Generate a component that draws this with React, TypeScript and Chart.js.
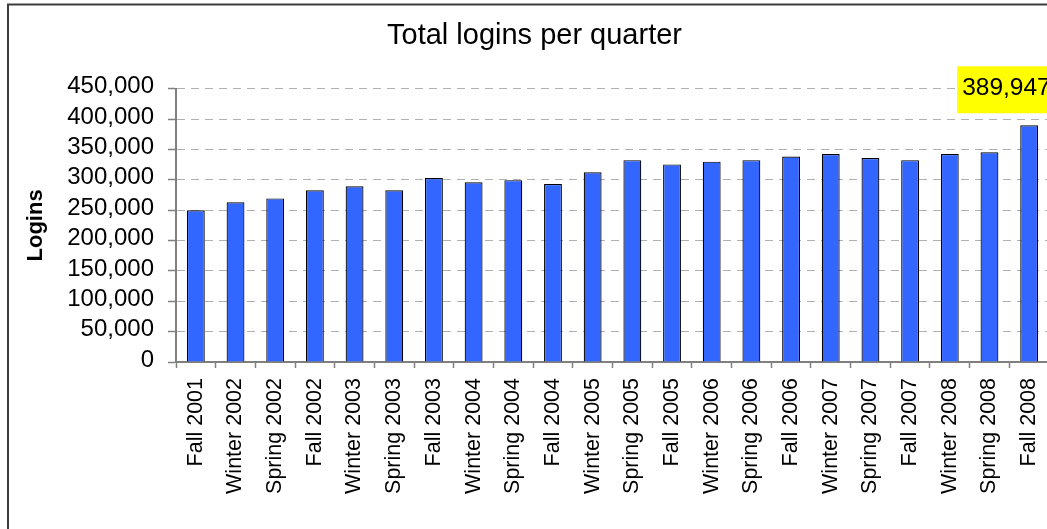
import { useEffect, useRef } from 'react';
import { Chart, registerables } from 'chart.js';

Chart.register(...registerables);

const chartTitle = 'Total logins per quarter';
const axisTitle = 'Logins';

const categories = [
  'Fall 2001', 'Winter 2002', 'Spring 2002', 'Fall 2002', 'Winter 2003', 'Spring 2003',
  'Fall 2003', 'Winter 2004', 'Spring 2004', 'Fall 2004', 'Winter 2005', 'Spring 2005',
  'Fall 2005', 'Winter 2006', 'Spring 2006', 'Fall 2006', 'Winter 2007', 'Spring 2007',
  'Fall 2007', 'Winter 2008', 'Spring 2008', 'Fall 2008',
];

const logins = [
  250000, 263000, 269500, 283000, 289500, 283000,
  303000, 296000, 299500, 293000, 312500, 332500,
  325500, 330000, 332500, 338500, 342500, 336000,
  332500, 342500, 345500, 389947,
];

const yMin = 0;
const yMax = 450000;
const yStep = 50000;

const FONT = '"Liberation Sans", Arial, Helvetica, sans-serif';

const fmt = (v: number) => Number(v).toLocaleString('en-US');

export default function App() {
  const ref = useRef<HTMLCanvasElement | null>(null);

  useEffect(() => {
    if (!ref.current) return;

    const framePlugin = {
      id: 'frame',
      beforeDraw(chart: any) {
        const ctx = chart.ctx;
        ctx.save();
        ctx.fillStyle = '#ffffff';
        ctx.fillRect(0, 0, chart.width, chart.height);
        ctx.strokeStyle = '#3c3c3c';
        ctx.lineWidth = 2;
        ctx.strokeRect(8, 4.5, chart.width + 20, chart.height + 20);
        ctx.restore();
      },
    };

    const calloutPlugin = {
      id: 'callout',
      afterDatasetsDraw(chart: any) {
        const meta = chart.getDatasetMeta(0);
        const i = logins.length - 1;
        const bar = meta.data[i];
        if (!bar) return;
        const ctx = chart.ctx;
        const text = fmt(logins[i]);
        ctx.save();
        ctx.font = `24.5px ${FONT}`;
        const w = ctx.measureText(text).width + 10;
        const left = bar.x - 72;
        const top = bar.y - 59;
        ctx.fillStyle = '#ffff00';
        ctx.fillRect(left, top, w, 47);
        ctx.fillStyle = '#000000';
        ctx.textBaseline = 'alphabetic';
        ctx.textAlign = 'left';
        ctx.fillText(text, left + 5, top + 28.6);
        ctx.restore();
      },
    };

    const chart = new Chart(ref.current, {
      type: 'bar',
      data: {
        labels: categories,
        datasets: [
          {
            label: 'Logins',
            data: logins,
            backgroundColor: '#3366ff',
            borderColor: '#000000',
            borderWidth: 1.2,
            barPercentage: 0.45,
            categoryPercentage: 1,
          },
        ],
      },
      options: {
        responsive: false,
        animation: false,
        layout: { padding: { left: 0, right: 0, top: 0, bottom: 0 } },
        plugins: {
          legend: { display: false },
          tooltip: { enabled: false },
          title: {
            display: true,
            text: chartTitle,
            color: '#000000',
            font: { family: FONT, size: 29, weight: 'normal' },
            padding: { top: 19, bottom: 35 },
          },
        },
        scales: {
          x: {
            type: 'category',
            position: 'bottom',
            offset: true,
            grid: {
              display: true,
              offset: true,
              drawOnChartArea: false,
              drawTicks: true,
              tickLength: 6,
              tickColor: '#808080',
              tickWidth: 1.5,
            },
            border: { display: true, color: '#808080', width: 2 },
            ticks: {
              autoSkip: false,
              maxRotation: 90,
              minRotation: 90,
              padding: 10,
              color: '#000000',
              font: { family: FONT, size: 21.5 },
            },
            afterFit(scale: any) {
              scale.height = 167;
            },
          },
          y: {
            type: 'linear',
            position: 'left',
            min: yMin,
            max: yMax,
            grid: {
              color: '#b0b0b0',
              lineWidth: 1,
              tickLength: 8,
              tickColor: '#808080',
              tickWidth: 1.5,
            },
            border: { display: true, color: '#808080', width: 2, dash: [8, 6] },
            ticks: {
              autoSkip: false,
              stepSize: yStep,
              padding: 14,
              labelOffset: -2,
              color: '#000000',
              font: { family: FONT, size: 24 },
              callback: (v: any) => fmt(v),
            },
            title: {
              display: true,
              text: axisTitle,
              color: '#000000',
              font: { family: FONT, size: 22, weight: 'bold' },
              padding: { top: 23, bottom: 0 },
            },
            afterFit(scale: any) {
              scale.width = 176;
            },
          },
          yRight: {
            type: 'linear',
            position: 'right',
            display: true,
            grid: { display: false, drawTicks: false },
            border: { display: false },
            ticks: { display: false },
            afterFit(scale: any) {
              scale.width = 20;
            },
          },
        },
      },
      plugins: [framePlugin, calloutPlugin],
    } as any);

    return () => chart.destroy();
  }, []);

  return (
    <div
      style={{
        position: 'fixed',
        left: 0,
        top: 0,
        width: 1047,
        height: 529,
        overflow: 'hidden',
        background: '#ffffff',
      }}
    >
      <canvas ref={ref} width={1069} height={529} style={{ display: 'block' }} />
    </div>
  );
}
